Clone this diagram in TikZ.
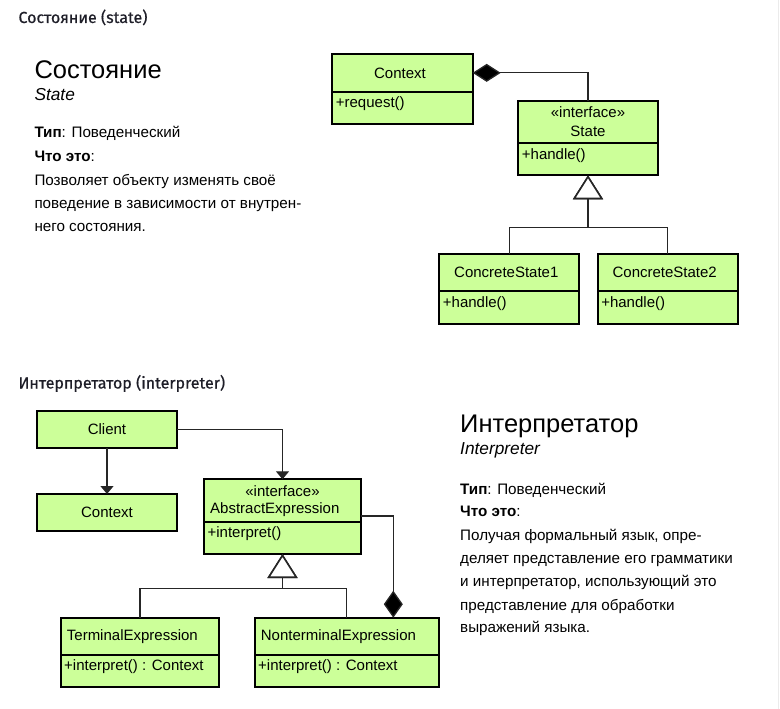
\documentclass[tikz,border=0pt]{standalone}
\usepackage{fontspec}
\setmainfont{Liberation Sans}
\newfontfamily\headfont[FakeBold=0.6]{Fira Sans}
\usetikzlibrary{arrows.meta}
\definecolor{umlgreen}{HTML}{CCFF99}
\definecolor{headcol}{HTML}{1E1E28}
\begin{document}
\begin{tikzpicture}[x=1pt,y=-1pt,
  cls/.style={draw=black, line width=2pt, fill=umlgreen, inner sep=0pt, outer sep=0pt,
    font=\fontsize{15}{19}\selectfont, align=center},
  ttl/.style={inner sep=0pt, font=\fontsize{15}{19}\selectfont},
  meth/.style={inner sep=0pt, anchor=west, font=\fontsize{15}{19}\selectfont},
  conn/.style={draw=black!85, line width=1.3pt},
  inh/.style={conn, -{Triangle[length=24pt,width=30pt,fill=white,line width=1.6pt]}},
  comp/.style={conn, -{Diamond[length=28pt,width=18pt,fill=black]}},
  agg/.style={conn, -{Diamond[length=27pt,width=19pt,fill=black]}},
  dep/.style={conn, -{Triangle[length=8pt,width=13pt]}},
  head/.style={inner sep=0pt, anchor=base west, text=headcol, font=\headfont\fontsize{16}{19}\selectfont},
  big/.style={inner sep=0pt, anchor=base west, font=\fontsize{25.5}{30}\selectfont},
  sub/.style={inner sep=0pt, anchor=base west, font=\fontsize{17.3}{20}\selectfont\itshape},
  body/.style={inner sep=0pt, anchor=base west, font=\fontsize{15.2}{18}\selectfont},
]
\useasboundingbox (0,0) rectangle (780,709);
\draw[draw=black!8, line width=1.5pt] (778.3,0) -- (778.3,709);

% ---------- State pattern ----------
\node[head] (h1) at (18.3,23) {Состояние (state)};
\node[big] (t1) at (34.3,78) {Состояние};
\node[sub] (s1) at (34.3,100) {State};
\node[body] (a1) at (34.3,137.7) {\textbf{Тип}: Поведенческий};
\node[body] (b1) at (34.3,161.7) {\textbf{Что это}:};
\node[body] (c1) at (34.3,185) {Позволяет объекту изменять своё};
\node[body] (c2) at (34.3,208.3) {поведение в зависимости от внутрен-};
\node[body] (c3) at (34.3,231.7) {него состояния.};

\node[cls, minimum width=140.4pt, minimum height=37.7pt] (ctx) at (402.5,72.85) {\hspace*{-5pt}Context};
\node[cls, minimum width=140.4pt, minimum height=32.3pt] (ctxm) at (402.5,107.85) {};
\node[meth] (ctxr) at ([xshift=3.4pt,yshift=-12.3pt]ctxm.north west) {+request()};

\node[cls, minimum width=140pt, minimum height=42pt] (st) at (588,121.7) {«interface»\\State};
\node[cls, minimum width=140pt, minimum height=32.6pt] (stm) at (588,159) {};
\node[meth] (sth) at ([xshift=3.7pt,yshift=-12.6pt]stm.north west) {+handle()};

\node[cls, minimum width=140pt, minimum height=37pt] (cs1) at (509.3,272.2) {\hspace*{-6pt}ConcreteState1};
\node[cls, minimum width=140pt, minimum height=33.3pt] (cs1m) at (509.3,307.35) {};
\node[meth] (cs1h) at ([xshift=3.4pt,yshift=-12.6pt]cs1m.north west) {+handle()};

\node[cls, minimum width=140pt, minimum height=37pt] (cs2) at (667.7,272.2) {\hspace*{-6pt}ConcreteState2};
\node[cls, minimum width=140pt, minimum height=33.3pt] (cs2m) at (667.7,307.35) {};
\node[meth] (cs2h) at ([xshift=3.4pt,yshift=-12.6pt]cs2m.north west) {+handle()};

\draw[comp] (st.north) |- (ctx.east);
\coordinate (j1) at (588,227.3);
\draw[inh] (cs1.north) |- (j1) -- (stm.south);
\draw[inh] (cs2.north) |- (j1) -- (stm.south);

% ---------- Interpreter pattern ----------
\node[head] (h2) at (18.3,388.5) {Интерпретатор (interpreter)};
\node[big] (t2) at (460,432.3) {Интерпретатор};
\node[sub] (s2) at (460,454.3) {Interpreter};
\node[body] (a2) at (460,494.3) {\textbf{Тип}: Поведенческий};
\node[body] (b2) at (460,516.7) {\textbf{Что это}:};
\node[body] (d1) at (460,540) {Получая формальный язык, опре-};
\node[body] (d2) at (460,563.3) {деляет представление его грамматики};
\node[body] (d3) at (460,586.7) {и интерпретатор, использующий это};
\node[body] (d4) at (460,610) {представление для обработки};
\node[body] (d5) at (460,632.5) {выражений языка.};

\node[cls, minimum width=139.4pt, minimum height=37pt] (cl) at (107,429.2) {Client};
\node[cls, minimum width=139.4pt, minimum height=37pt] (cx2) at (107,512.5) {Context};

\node[cls, minimum width=157pt, minimum height=43pt] (ae) at (282.5,500.8) {};
\node[ttl] (aei) at ([yshift=9.8pt]ae.center) {«interface»};
\node[ttl, anchor=west] (aen) at ([xshift=6pt,yshift=-8.5pt]ae.west) {AbstractExpression};
\node[cls, minimum width=157pt, minimum height=31.7pt] (aem) at (282.5,538.15) {};
\node[meth] (aeh) at ([xshift=3.4pt,yshift=-11.4pt]aem.north west) {+interpret()};

\node[cls, minimum width=158.6pt, minimum height=37.3pt] (te) at (140,636.35) {};
\node[ttl, anchor=west] (ten) at ([xshift=6pt]te.west) {TerminalExpression};
\node[cls, minimum width=158.6pt, minimum height=32.3pt] (tem) at (140,671.15) {};
\node[meth] (teh) at ([xshift=3.3pt,yshift=-12pt]tem.north west) {+interpret() : Context};

\node[cls, minimum width=184pt, minimum height=37.3pt] (nt) at (346.7,636.35) {};
\node[ttl, anchor=west] (ntn) at ([xshift=6pt]nt.west) {NonterminalExpression};
\node[cls, minimum width=184pt, minimum height=32.3pt] (ntm) at (346.7,671.15) {};
\node[meth] (nth) at ([xshift=3.3pt,yshift=-12pt]ntm.north west) {+interpret() : Context};

\draw[dep] (cl) -- (cx2);
\draw[dep] (cl.east) -| (ae.north);
\coordinate (j2) at (282.5,588.3);
\draw[inh] (te.north) |- (j2) -- (aem.south);
\draw[inh] (nt.north) |- (j2) -- (aem.south);
\draw[agg] ([yshift=6.3pt]ae.south east) -| ([xshift=-45.4pt]nt.north east);
\end{tikzpicture}
\end{document}
